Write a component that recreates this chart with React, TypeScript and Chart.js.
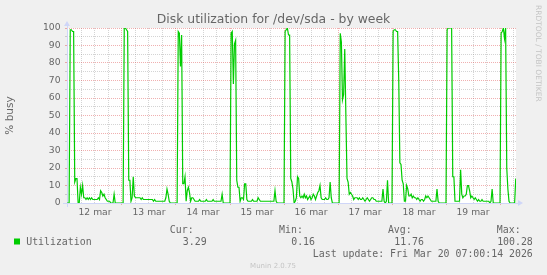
import { useEffect, useRef } from "react";
import { Chart, registerables } from "chart.js";

Chart.register(...registerables);

const W = 547;
const H = 275;

// Half-hourly utilisation (% busy) per day, starting at 00:00 of that day.
const mar11Tail = [0]; // 23:30
const mar12 = [
  0, 0, 99, 99, 98, 98, 12, 14, 14, 0, 0, 9,
  5, 10, 3, 3, 2, 3, 2, 3, 2, 3, 2, 2,
  2, 2, 2, 3, 2, 7, 6, 4, 5, 3, 2, 1,
  1, 1, 0, 0, 0, 5, 0, 0, 0, 0, 0, 0,
];
const mar13 = [
  0, 0, 100, 100, 99, 98, 13, 13, 1, 3, 15, 4,
  3, 3, 3, 3, 3, 2, 3, 2, 2, 2, 2, 2,
  2, 2, 2, 2, 1, 2, 1, 1, 1, 1, 1, 1,
  1, 1, 1, 3, 8, 5, 1, 0, 0, 0, 0, 0,
];
const mar14 = [
  0, 0, 98, 97, 78, 96, 11, 11, 15, 1, 7, 9,
  6, 1, 3, 3, 2, 1, 1, 1, 1, 2, 1, 1,
  1, 1, 1, 2, 1, 1, 1, 1, 1, 2, 1, 1,
  1, 1, 1, 1, 1, 5, 0, 0, 0, 0, 0, 0,
];
const mar15 = [
  0, 97, 98, 68, 91, 93, 13, 9, 9, 1, 3, 3,
  2, 11, 11, 2, 1, 1, 1, 1, 2, 1, 1, 1,
  1, 3, 2, 1, 1, 1, 1, 1, 1, 1, 1, 1,
  1, 1, 1, 1, 7, 1, 0, 0, 0, 0, 0, 0,
];
const mar16 = [
  0, 98, 99, 100, 96, 96, 14, 12, 8, 0, 1, 3,
  15, 14, 4, 3, 4, 3, 5, 3, 4, 2, 3, 4,
  2, 3, 5, 4, 2, 4, 6, 7, 10, 3, 2, 2,
  2, 3, 2, 2, 3, 12, 3, 0, 0, 0, 0, 0,
];
const mar17 = [
  0, 0, 97, 92, 59, 62, 88, 50, 14, 12, 5, 6,
  5, 4, 2, 3, 3, 3, 2, 3, 2, 2, 3, 2,
  1, 2, 3, 2, 1, 2, 3, 3, 2, 2, 1, 1,
  1, 1, 1, 1, 8, 1, 0, 1, 13, 0, 0, 0,
];
const mar18 = [
  0, 98, 99, 99, 98, 98, 70, 23, 22, 13, 11, 1,
  1, 10, 8, 4, 4, 5, 3, 4, 3, 3, 2, 3,
  2, 1, 2, 2, 1, 2, 4, 3, 4, 3, 2, 1,
  1, 1, 1, 1, 8, 1, 0, 0, 0, 0, 0, 0,
];
const mar19 = [
  0, 99, 100, 100, 100, 100, 15, 15, 1, 1, 1, 1,
  1, 19, 5, 3, 4, 4, 5, 10, 10, 7, 3, 4,
  3, 2, 3, 2, 1, 2, 1, 1, 2, 1, 1, 1,
  1, 1, 1, 0, 1, 8, 0, 0, 0, 0, 0, 0,
];
const mar20 = [0, 97, 98, 100, 94, 100, 20, 8, 1, 0, 0, 0, 0, 0, 14];

const dayLabels = ["12 mar", "13 mar", "14 mar", "15 mar", "16 mar", "17 mar", "18 mar", "19 mar"];
const yTickLabels = [0, 10, 20, 30, 40, 50, 60, 70, 80, 90, 100];

const seriesName = "Utilization";
const statHeads = ["Cur:", "Min:", "Avg:", "Max:"];
const statValues = ["3.29", "0.16", "11.76", "100.28"];
const lastUpdate = "Last update: Fri Mar 20 07:00:14 2026";
const titleText = "Disk utilization for /dev/sda - by week";
const yTitle = "% busy";
const watermark = "RRDTOOL / TOBI OETIKER";
const footer = "Munin 2.0.75";

const LINE_GREEN = "#00CC00";
const FONT_COL = "#666666";
const AXIS_COL = "#CFD6F8";
const GRID_COL = "rgba(143,143,143,0.38)";
const MGRID_COL = "rgba(222,79,79,0.45)";
const FAINT = "rgba(102,102,102,0.32)";

const SANS = "'DejaVu Sans', sans-serif";
const MONO = "'DejaVu Sans Mono', monospace";

function buildPoints() {
  const days = [mar12, mar13, mar14, mar15, mar16, mar17, mar18, mar19, mar20];
  const pts: { x: number; y: number }[] = mar11Tail.map((v, i) => ({ x: -0.5 * (mar11Tail.length - i), y: v }));
  days.forEach((vals, d) => vals.forEach((v, i) => pts.push({ x: d * 24 + i * 0.5, y: v })));
  return pts;
}

const muninDecor = {
  id: "muninDecor",
  beforeDraw(chart: any) {
    const { ctx, chartArea: a } = chart;
    ctx.save();
    ctx.fillStyle = "#F0F0F0";
    ctx.fillRect(0, 0, W, H);
    ctx.fillStyle = "#FFFFFF";
    ctx.fillRect(a.left, a.top, a.right - a.left, a.bottom - a.top);
    ctx.restore();
  },
  beforeDatasetsDraw(chart: any) {
    const { ctx, chartArea: a } = chart;
    const x0 = a.left + 0.5;
    const y0 = a.bottom + 0.5;
    ctx.save();
    ctx.strokeStyle = AXIS_COL;
    ctx.lineWidth = 1;
    ctx.beginPath();
    ctx.moveTo(a.left - 4, y0);
    ctx.lineTo(a.right + 4, y0);
    ctx.moveTo(x0, a.bottom + 4);
    ctx.lineTo(x0, a.top - 4);
    ctx.stroke();
    ctx.fillStyle = AXIS_COL;
    ctx.beginPath();
    ctx.moveTo(a.right + 2, a.bottom - 3);
    ctx.lineTo(a.right + 2, a.bottom + 3);
    ctx.lineTo(a.right + 7, a.bottom);
    ctx.closePath();
    ctx.fill();
    ctx.beginPath();
    ctx.moveTo(a.left - 3, a.top - 2);
    ctx.lineTo(a.left + 3, a.top - 2);
    ctx.lineTo(a.left, a.top - 7);
    ctx.closePath();
    ctx.fill();
    ctx.restore();
  },
  afterDraw(chart: any) {
    const { ctx } = chart;
    ctx.save();
    ctx.textBaseline = "alphabetic";
    ctx.font = `9.9px ${MONO}`;
    ctx.fillStyle = FONT_COL;

    const headRight = [193.6, 302.9, 411.7, 520.6];
    const valueRight = [206.6, 315, 424, 532.8];
    ctx.textAlign = "right";
    statHeads.forEach((t, i) => ctx.fillText(t, headRight[i], 233));
    statValues.forEach((t, i) => ctx.fillText(t, valueRight[i], 245));
    ctx.fillText(lastUpdate, 532.8, 257);

    ctx.textAlign = "left";
    ctx.fillText(seriesName, 26.2, 245);
    ctx.fillStyle = LINE_GREEN;
    ctx.fillRect(14, 238.5, 6, 6);

    ctx.fillStyle = FAINT;
    ctx.font = `7px ${SANS}`;
    ctx.textAlign = "center";
    ctx.fillText(footer, 273, 268);

    ctx.translate(537.5, 5);
    ctx.rotate(Math.PI / 2);
    ctx.font = `7.5px ${SANS}`;
    ctx.textAlign = "left";
    ctx.textBaseline = "middle";
    ctx.fillText(watermark, 0, 0);
    ctx.restore();
  },
};

export default function App() {
  const canvasRef = useRef<HTMLCanvasElement | null>(null);

  useEffect(() => {
    const canvas = canvasRef.current;
    if (!canvas) return;
    const xGridHours = Array.from({ length: 34 }, (_, i) => i * 6);
    const yGridValues = Array.from({ length: 21 }, (_, i) => i * 5);
    const tickFont = { family: SANS, size: 9.2, weight: "normal" as const, lineHeight: 1.2 };

    const chart = new Chart(canvas, {
      type: "line",
      data: {
        datasets: [
          {
            label: seriesName,
            data: buildPoints(),
            borderColor: LINE_GREEN,
            borderWidth: 1.2,
            pointRadius: 0,
            tension: 0,
            fill: false,
          },
        ],
      },
      options: {
        animation: false,
        responsive: false,
        devicePixelRatio: 1,
        events: [],
        layout: { padding: 0 },
        plugins: {
          legend: { display: false },
          tooltip: { enabled: false },
          title: {
            display: true,
            text: titleText,
            color: FONT_COL,
            font: { family: SANS, size: 12.4, weight: "normal", lineHeight: 1.2 },
            padding: { top: 12.8, bottom: 0.32 },
          },
        },
        scales: {
          x: {
            type: "linear",
            bounds: "data",
            min: -0.444,
            max: 199.11,
            afterFit: (s: any) => {
              s.height = 72;
            },
            afterBuildTicks: (s: any) => {
              s.ticks = xGridHours.map((v) => ({ value: v }));
            },
            ticks: {
              autoSkip: false,
              maxRotation: 0,
              minRotation: 0,
              padding: 1.8,
              color: FONT_COL,
              font: tickFont,
              callback: (v: any) => (Number(v) % 24 === 12 ? dayLabels[(Number(v) - 12) / 24] : ""),
            },
            grid: {
              lineWidth: 1,
              color: (c: any) => (c.tick && c.tick.value % 24 === 0 ? MGRID_COL : GRID_COL),
              drawTicks: true,
              tickLength: 2,
              tickColor: (c: any) => (c.tick && c.tick.value % 24 === 0 ? MGRID_COL : "rgba(0,0,0,0)"),
            },
            border: { display: false, dash: [1, 1] },
          },
          y: {
            type: "linear",
            position: "left",
            bounds: "data",
            min: 0,
            max: 100,
            afterFit: (s: any) => {
              s.width = 67;
            },
            afterBuildTicks: (s: any) => {
              s.ticks = yGridValues.map((v) => ({ value: v }));
            },
            ticks: {
              autoSkip: false,
              padding: 4.5,
              color: FONT_COL,
              font: tickFont,
              callback: (v: any) => (yTickLabels.includes(Number(v)) ? String(v) : ""),
            },
            grid: {
              lineWidth: 1,
              color: (c: any) => (c.tick && c.tick.value % 10 === 0 ? MGRID_COL : GRID_COL),
              drawTicks: true,
              tickLength: 2,
              tickColor: (c: any) => (c.tick && c.tick.value % 10 === 0 ? MGRID_COL : GRID_COL),
            },
            border: { display: false, dash: [1, 1] },
            title: {
              display: true,
              text: yTitle,
              color: FONT_COL,
              font: { family: SANS, size: 10.5, weight: "normal", lineHeight: 1.2 },
              padding: { top: 3.8, bottom: 0 },
            },
          },
          yr: {
            type: "linear",
            position: "right",
            display: true,
            afterFit: (s: any) => {
              s.width = 31;
            },
            ticks: { display: false },
            grid: { display: false },
            border: { display: false },
          },
        },
      },
      plugins: [muninDecor],
    } as any);

    return () => chart.destroy();
  }, []);

  return (
    <div style={{ position: "absolute", left: 0, top: 0, width: W, height: H, background: "#F0F0F0" }}>
      <canvas ref={canvasRef} width={W} height={H} style={{ display: "block", width: W, height: H }} />
    </div>
  );
}
